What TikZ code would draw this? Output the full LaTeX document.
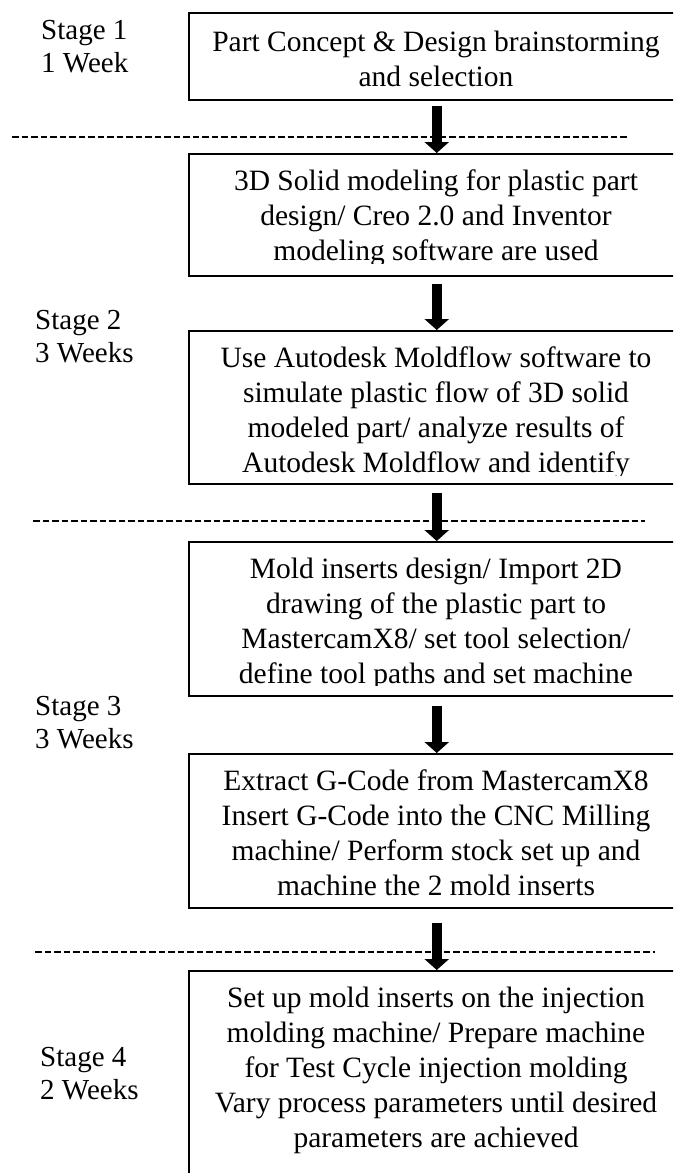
\documentclass[tikz,border=0pt]{standalone}
\usepackage{fontspec}
\setmainfont{Liberation Serif}
\usetikzlibrary{arrows.meta}
\tikzset{
  box/.style={draw, line width=1.5pt, minimum width=496pt, inner sep=0pt, anchor=north west},
  txt/.style={align=center, inner sep=0pt, anchor=base, font=\fontsize{29.5}{35}\selectfont},
  stage/.style={align=left, inner sep=0pt, anchor=base west, font=\fontsize{29}{33}\selectfont},
  flow/.style={line width=10pt, -{Triangle[width=24pt,length=11pt]}},
  sep/.style={line width=1.6pt, dash pattern=on 6.5pt off 3pt}
}
\begin{document}
\begin{tikzpicture}[x=1pt,y=-1pt]
\useasboundingbox (0,0) rectangle (673,1173);
\clip (0,0) rectangle (673,1173);

% separators
\draw[sep] (12,137) -- (628,137);
\draw[sep] (33,521) -- (645,521);
\draw[sep] (35,952) -- (655,952);

% boxes
\node[box, minimum height=87pt]  (b1) at (188,12)  {};
\node[box, minimum height=122pt] (b2) at (188,153) {};
\node[box, minimum height=153pt] (b3) at (188,330) {};
\node[box, minimum height=154pt] (b4) at (188,541) {};
\node[box, minimum height=154pt] (b5) at (188,753) {};
\node[box, minimum height=240pt] (b6) at (188,970) {};

% texts (anchored at the baseline of their last line), clipped to the boxes
\begin{scope}\clip (188,12) rectangle (684,93);
\node[txt] (t1) at (436,86) {Part Concept \& Design brainstorming\\and selection};
\end{scope}
\begin{scope}\clip (188,153) rectangle (684,263);
\node[txt] (t2) at (436,260) {3D Solid modeling for plastic part\\design/ Creo 2.0 and Inventor\\modeling software are used};
\end{scope}
\begin{scope}\clip (188,330) rectangle (684,475);
\node[txt] (t3) at (436,472) {Use Autodesk Moldflow software to\\simulate plastic flow of 3D solid\\modeled part/ analyze results of\\Autodesk Moldflow and identify};
\end{scope}
\begin{scope}\clip (188,541) rectangle (684,685);
\node[txt] (t4) at (436,683) {Mold inserts design/ Import 2D\\drawing of the plastic part to\\MastercamX8/ set tool selection/\\define tool paths and set machine};
\end{scope}
\begin{scope}\clip (188,753) rectangle (684,897);
\node[txt] (t5) at (436,895) {Extract G-Code from MastercamX8\\Insert G-Code into the CNC Milling\\machine/ Perform stock set up and\\machine the 2 mold inserts};
\end{scope}
\begin{scope}\clip (188,970) rectangle (684,1173);
\node[txt] (t6) at (436,1147) {Set up mold inserts on the injection\\molding machine/ Prepare machine\\for Test Cycle injection molding\\Vary process parameters until desired\\parameters are achieved};
\end{scope}

% arrows
\draw[flow, shorten <=5pt] (b1.south) -- (b2.north);
\draw[flow, shorten <=7pt] (b2.south) -- (b3.north);
\draw[flow, shorten <=8pt] (b3.south) -- (b4.north);
\draw[flow, shorten <=9pt] (b4.south) -- (b5.north);
\draw[flow, shorten <=14pt] (b5.south) -- (b6.north);

% stage labels (anchored at the baseline of their last line)
\node[stage] (s1) at (41,72)   {Stage 1\\1 Week};
\node[stage] (s2) at (35,362)  {Stage 2\\3 Weeks};
\node[stage] (s3) at (35,748)  {Stage 3\\3 Weeks};
\node[stage] (s4) at (40,1099) {Stage 4\\2 Weeks};
\end{tikzpicture}
\end{document}
